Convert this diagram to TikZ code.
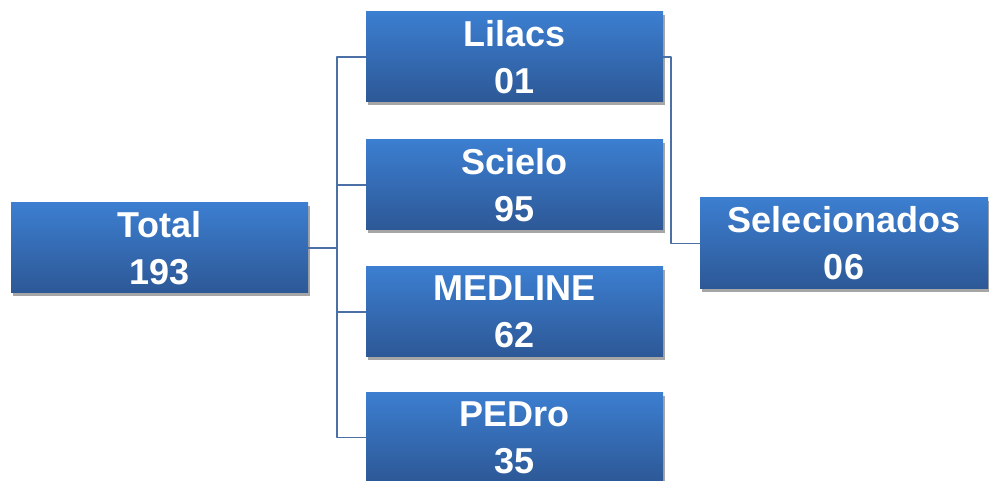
\documentclass[tikz,border=0pt]{standalone}
\usepackage{fontspec}
\setmainfont{Liberation Sans}
\usepackage{tikz}
\usetikzlibrary{shadows}
\definecolor{boxtop}{RGB}{60,126,208}
\definecolor{boxbot}{RGB}{45,88,150}
\definecolor{linkblue}{RGB}{74,112,166}
\begin{document}
\begin{tikzpicture}[line cap=round,line join=round,x=1pt,y=-1pt,
  dbbox/.style={rectangle,inner sep=0pt,minimum width=297pt,minimum height=90pt,
    top color=boxtop,bottom color=boxbot,text=white,align=center,
    font=\fontsize{36}{47}\selectfont\bfseries,
    drop shadow={shadow xshift=2pt,shadow yshift=-3pt,opacity=.35,fill=black}},
  link/.style={draw=linkblue,line width=1.8pt}]
\useasboundingbox (0,0) rectangle (989,481);
\clip (0,0) rectangle (989,481);
% boxes
\node[dbbox] (total) at (159.5,248) {Total\\193};
\node[dbbox] (lilacs) at (514.5,57) {Lilacs\\01};
\node[dbbox] (scielo) at (514.5,185) {Scielo\\95};
\node[dbbox] (medline) at (514.5,312) {MEDLINE\\62};
\node[dbbox] (pedro) at (514.5,437.5) {PEDro\\35};
\node[dbbox,minimum width=288pt,minimum height=91pt] (sel) at (844,243.5) {Selecionados\\06};
% connectors
\coordinate (trunk) at (337,0);
\coordinate (bend) at (671,0);
\draw[link] (total.east) -- (trunk |- total.east);
\draw[link] (lilacs.west) -- (trunk |- lilacs.west) -- (trunk |- pedro.west) -- (pedro.west);
\draw[link] (scielo.west) -- (trunk |- scielo.west);
\draw[link] (medline.west) -- (trunk |- medline.west);
\draw[link] (lilacs.east) -- (bend |- lilacs.east) |- (sel.west);
\end{tikzpicture}
\end{document}
